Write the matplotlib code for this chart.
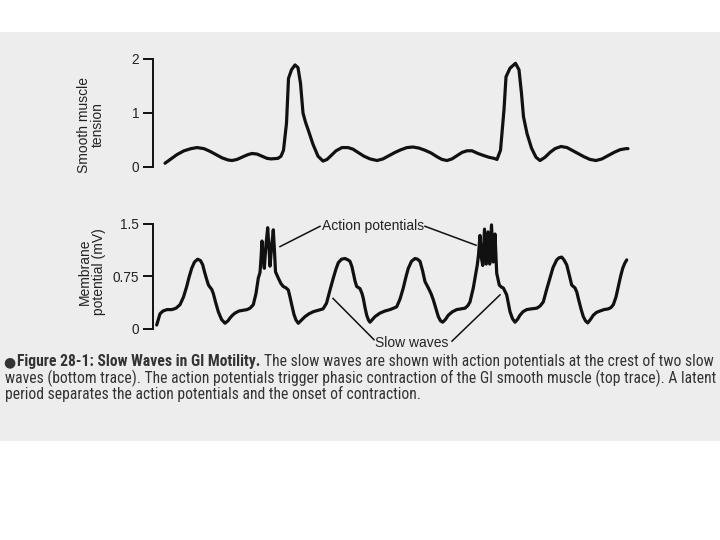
import matplotlib
matplotlib.use("Agg")
import matplotlib.pyplot as plt
from matplotlib.patches import Rectangle
from matplotlib import font_manager as fm

# ---------------- data (time in arbitrary units) ----------------
tension_t = [165, 171, 177, 184, 191, 197, 204, 210, 216, 222, 228, 232, 237, 243, 248, 252,
             257, 262, 267, 271, 278, 281, 283.5, 286.5, 288.5, 291.5, 295, 298, 300.5, 303,
             305.5, 308.5, 313, 318, 323, 327, 331, 336, 342, 348, 353, 358, 364, 370, 377,
             383, 389, 395, 401, 407, 413, 419, 425, 431, 437, 442, 447, 452, 457, 462, 467,
             472, 478, 484, 489, 494, 497, 500.5, 504, 506, 510, 515.5, 519, 521.5, 523.5,
             527, 531.5, 536, 540, 545, 550, 555, 561, 567, 572, 578, 584, 590, 596, 602,
             608, 614, 620, 626, 628]
tension_v = [0.07, 0.15, 0.23, 0.30, 0.34, 0.36, 0.34, 0.29, 0.23, 0.17, 0.13, 0.12, 0.14, 0.19,
             0.23, 0.25, 0.24, 0.20, 0.16, 0.15, 0.16, 0.20, 0.31, 0.81, 1.64, 1.80, 1.89, 1.84,
             1.55, 1.00, 0.83, 0.67, 0.42, 0.20, 0.11, 0.14, 0.21, 0.30, 0.36, 0.36, 0.33, 0.27,
             0.20, 0.15, 0.12, 0.15, 0.21, 0.27, 0.32, 0.36, 0.37, 0.35, 0.31, 0.26, 0.19, 0.14,
             0.12, 0.15, 0.21, 0.27, 0.30, 0.30, 0.25, 0.21, 0.18, 0.16, 0.14, 0.31, 1.06, 1.67,
             1.83, 1.92, 1.80, 1.36, 0.93, 0.62, 0.35, 0.18, 0.12, 0.18, 0.27, 0.34, 0.38, 0.36,
             0.31, 0.25, 0.19, 0.14, 0.12, 0.15, 0.21, 0.27, 0.32, 0.34, 0.34]

potential_t = [156.7, 158.5, 160, 163, 167, 172, 176, 180, 183.5, 186.7, 189, 191.7, 194.5,
               197.7, 200.5, 202.7, 204.5, 206.7, 208.5, 210, 211.7, 213.3, 215.5, 218.3,
               221.5, 225, 228, 230, 232.5, 235, 239, 243, 247, 250, 253.3, 256, 258.3, 260,
               261, 262, 263, 264.3, 266, 267.7, 269, 270, 271.5, 273.3, 274.5, 275.5, 278.3,
               281, 283.3, 286, 288.3, 290, 291.7, 294, 296, 298.3, 301.5, 305, 309, 313.3,
               318, 323, 326.5, 330, 333.3, 336, 338.3, 341.5, 345, 348, 350, 352, 353.3, 355,
               356.7, 360, 362, 363.3, 365, 366.7, 368.5, 370, 372.5, 375, 380, 385, 390,
               393.5, 396.7, 400, 403.3, 406, 408.3, 411.5, 415, 417.5, 420, 422.5, 425,
               428.3, 431, 433.3, 436, 438.3, 440.5, 442.7, 445.5, 448.3, 452.5, 456.7, 461,
               465, 468, 470, 473.3, 475.5, 477.3, 478.5, 480, 481.5, 482.8, 484.5, 486.3,
               488, 489.7, 491.5, 493.3, 495, 496.7, 499.3, 501.5, 503.3, 505, 506.7, 508.5,
               510, 512.5, 515, 517.5, 520, 523, 526.7, 531, 536.7, 540, 543.3, 546.5, 550,
               553, 556.7, 559, 561.7, 564, 566.7, 569, 571.7, 575, 576.8, 578.3, 581, 583.3,
               585.5, 587.7, 590.5, 593.3, 596.5, 600, 604, 608.3, 611, 613.3, 616, 618.3,
               620.5, 622.7, 624.7, 626.7]
potential_v = [0.05, 0.14, 0.21, 0.25, 0.27, 0.27, 0.29, 0.34, 0.45, 0.60, 0.73, 0.86, 0.95,
               0.99, 0.97, 0.91, 0.81, 0.70, 0.62, 0.59, 0.56, 0.50, 0.38, 0.24, 0.13, 0.075,
               0.11, 0.15, 0.19, 0.22, 0.25, 0.26, 0.27, 0.29, 0.34, 0.50, 0.72, 0.80, 1.00,
               1.25, 1.05, 0.86, 1.20, 1.44, 1.15, 0.89, 1.15, 1.41, 1.10, 0.81, 0.72, 0.64,
               0.60, 0.58, 0.55, 0.45, 0.34, 0.20, 0.12, 0.075, 0.12, 0.17, 0.21, 0.24, 0.26,
               0.28, 0.36, 0.55, 0.72, 0.85, 0.94, 0.99, 1.00, 0.98, 0.96, 0.88, 0.79, 0.68,
               0.60, 0.57, 0.50, 0.43, 0.30, 0.19, 0.12, 0.09, 0.13, 0.17, 0.22, 0.25, 0.27,
               0.29, 0.31, 0.42, 0.58, 0.74, 0.86, 0.96, 1.00, 0.99, 0.96, 0.83, 0.67, 0.58,
               0.50, 0.41, 0.28, 0.17, 0.11, 0.09, 0.13, 0.19, 0.24, 0.27, 0.28, 0.29, 0.33,
               0.38, 0.58, 0.76, 0.91, 1.05, 1.33, 1.00, 0.90, 1.42, 0.92, 1.38, 0.92, 1.48,
               0.95, 1.35, 0.79, 0.62, 0.59, 0.58, 0.53, 0.48, 0.35, 0.24, 0.14, 0.09, 0.13,
               0.19, 0.24, 0.27, 0.28, 0.29, 0.32, 0.38, 0.55, 0.72, 0.87, 0.98, 1.01, 1.02,
               0.98, 0.91, 0.78, 0.62, 0.58, 0.52, 0.43, 0.28, 0.17, 0.11, 0.08, 0.13, 0.19,
               0.23, 0.25, 0.27, 0.28, 0.30, 0.34, 0.45, 0.60, 0.74, 0.86, 0.93, 0.98]

tension_ticks = [0, 1, 2]
tension_ticklabels = ["0", "1", "2"]
potential_ticks = [0, 0.75, 1.5]
potential_ticklabels = ["0", "0.75", "1.5"]

top_ylabel = "Smooth muscle\ntension"
bottom_ylabel = "Membrane\npotential (mV)"
ap_label = "Action potentials"
sw_label = "Slow waves"
# annotation pointer lines: (text end point) -> (target point)
ap_lines = [((320, 1.46), (280, 1.17)), ((425, 1.46), (476, 1.19))]
sw_lines = [((374, -0.16), (333, 0.43)), ((452, -0.18), (500, 0.48))]

caption_bold = "Figure 28-1: Slow Waves in GI Motility."
caption_l1 = "The slow waves are shown with action potentials at the crest of two slow"
caption_l2 = ("waves (bottom trace). The action potentials trigger phasic contraction of the "
              "GI smooth muscle (top trace). A latent")
caption_l3 = "period separates the action potentials and the onset of contraction."

# ---------------- fonts ----------------
names = {f.name for f in fm.fontManager.ttflist}
main_font = "Liberation Sans" if "Liberation Sans" in names else "DejaVu Sans"
cap_font = main_font
for cand in ["Liberation Sans Narrow", "Roboto Condensed", "Open Sans Condensed",
             "DejaVu Sans Condensed"]:
    if cand in names:
        cap_font = cand
        break
plt.rcParams["font.family"] = [main_font, "DejaVu Sans"]

W, H = 720, 540
fig = plt.figure(figsize=(7.2, 5.4), dpi=100)
fig.patch.set_facecolor("white")
fig.patches.append(Rectangle((0, 1 - 441 / H), 1, (441 - 32) / H, transform=fig.transFigure,
                             facecolor="#ededed", edgecolor="none", zorder=-10))

ink = "#111111"
txt = "#222222"


def setup(ax, ticks, labels):
    for s in ["top", "right", "bottom"]:
        ax.spines[s].set_visible(False)
    ax.spines["left"].set_linewidth(1.4)
    ax.spines["left"].set_color(ink)
    ax.set_facecolor("none")
    ax.set_xticks([])
    ax.set_yticks(ticks)
    ax.set_yticklabels(labels)
    ax.tick_params(axis="y", direction="out", length=7, width=1.4, pad=3,
                   labelsize=9.8, colors=ink, labelcolor=txt)
    ax.set_xlim(153, 640)


ax1 = fig.add_axes([153 / W, 1 - 167 / H, 487 / W, 108 / H])
setup(ax1, tension_ticks, tension_ticklabels)
ax1.set_ylim(0, 2)
ax1.plot(tension_t, tension_v, color=ink, lw=2.3, clip_on=False,
         solid_joinstyle="round", solid_capstyle="round")

ax2 = fig.add_axes([153 / W, 1 - 328.5 / H, 487 / W, 105 / H])
setup(ax2, potential_ticks, potential_ticklabels)
ax2.set_ylim(0, 1.5)
ax2.plot(potential_t, potential_v, color=ink, lw=2.3, clip_on=False,
         solid_joinstyle="round", solid_capstyle="round")

fig.text(91 / W, 1 - 125 / H, top_ylabel, rotation=90, ha="center", va="center",
         fontsize=10, linespacing=1.05, color=txt, multialignment="center")
fig.text(92 / W, 1 - 272 / H, bottom_ylabel, rotation=90, ha="center", va="center",
         fontsize=10, linespacing=1.05, color=txt, multialignment="center")

ax2.text(373, 1.46, ap_label, ha="center", va="center", fontsize=10, color=txt, clip_on=False)
ax2.text(412, -0.21, sw_label, ha="center", va="center", fontsize=10, color=txt, clip_on=False)
for (a, b) in ap_lines + sw_lines:
    ax2.plot([a[0], b[0]], [a[1], b[1]], color=ink, lw=1.1, clip_on=False)

# ---------------- caption ----------------
cap_col = "#333333"
fs = 10.0
t2 = fig.text(5 / W, 1 - 399 / H, caption_l2 + "\n" + caption_l3, fontsize=fs,
              family=cap_font, color=cap_col, va="baseline", ha="left",
              linespacing=0.95)
r = fig.canvas.get_renderer()
for _ in range(4):
    fig.canvas.draw()
    w = t2.get_window_extent(r).width
    fs = fs * 709.0 / w
    t2.set_fontsize(fs)
fig.canvas.draw()
y1 = 1 - 366.3 / H
fig.text(3 / W, y1, "\u25cf", fontsize=fs * 0.9, family="DejaVu Sans", color=cap_col,
         va="baseline", ha="left")
tb = fig.text(17 / W, y1, caption_bold, fontsize=fs, family=cap_font,
              fontweight="bold", color=cap_col, va="baseline", ha="left")
fig.canvas.draw()
bx = tb.get_window_extent(r).x1
fig.text((bx + 4) / W, y1, caption_l1, fontsize=fs, family=cap_font, color=cap_col,
         va="baseline", ha="left")

fig.savefig("out.png", dpi=100)
